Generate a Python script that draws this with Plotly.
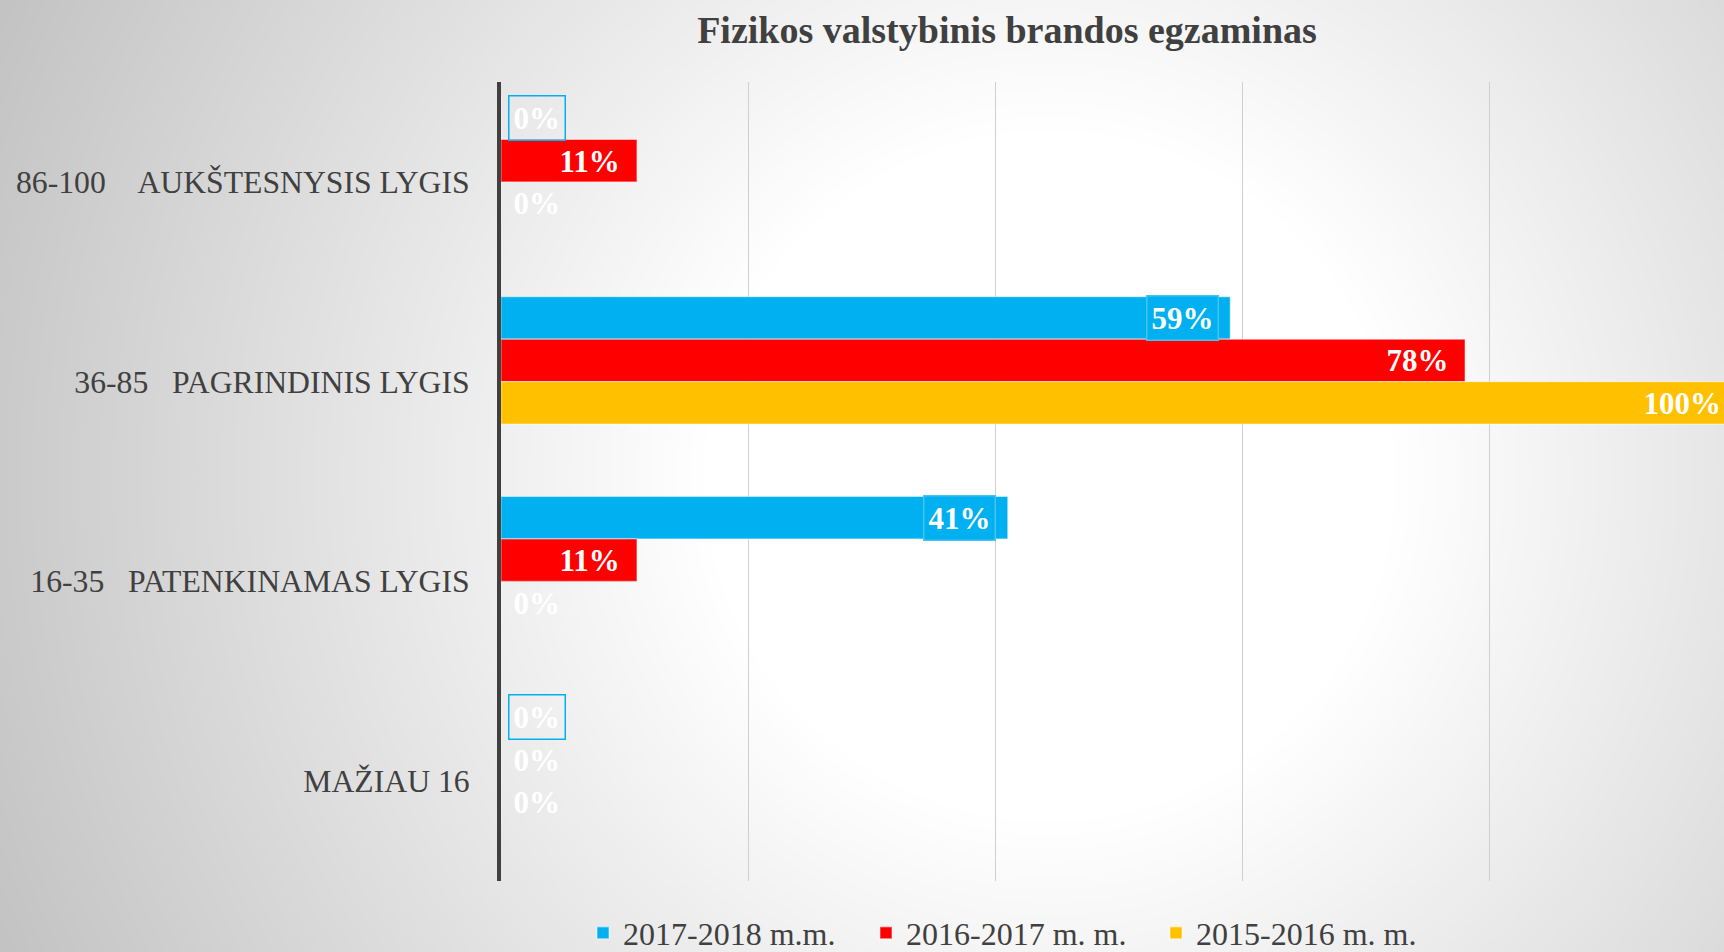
import base64
import struct
import zlib

import numpy as np
import plotly.graph_objects as go

# ---------------- data ----------------
categories = [
    "86-100\u00a0\u00a0\u00a0\u00a0AUKŠTESNYSIS LYGIS",
    "36-85\u00a0\u00a0\u00a0PAGRINDINIS LYGIS",
    "16-35\u00a0\u00a0\u00a0PATENKINAMAS LYGIS",
    "MAŽIAU 16",
]
series_names = ["2017-2018 m.m.", "2016-2017 m. m.", "2015-2016 m. m."]
values_2017_2018 = [0.00, 0.59, 0.41, 0.00]
values_2016_2017 = [0.11, 0.78, 0.11, 0.00]
values_2015_2016 = [0.00, 1.00, 0.00, 0.00]
series_values = [values_2017_2018, values_2016_2017, values_2015_2016]
colors = ["#00B0F0", "#FF0000", "#FFC000"]
title_text = "Fizikos valstybinis brandos egzaminas"

# ---------------- layout constants ----------------
W, H = 1724, 952
ML, MR, MT, MB = 501, 0, 82, 71
XMAX = 0.9895
BARGAP = 0.15
N_SLOTS = 4  # Excel chart holds an extra, empty series slot
FONT = "Liberation Serif, Times New Roman, serif"
TEXT_COLOR = "#404040"


# ---------------- background radial gradient ----------------
def gradient_png(w, h, scale):
    ys, xs = np.mgrid[0:h, 0:w].astype(float)
    xs = (xs + 0.5) * scale
    ys = (ys + 0.5) * scale
    d = np.hypot(xs - 1050.0, ys - 476.0)
    g = np.clip(255.0 - 0.0745 * np.maximum(d - 347.0, 0.0), 0, 255).astype(np.uint8)
    raw = b"".join(b"\x00" + g[r].tobytes() for r in range(h))

    def chunk(t, data):
        c = struct.pack(">I", len(data)) + t + data
        return c + struct.pack(">I", zlib.crc32(t + data) & 0xFFFFFFFF)

    ihdr = struct.pack(">IIBBBBB", w, h, 8, 0, 0, 0, 0)
    png = (b"\x89PNG\r\n\x1a\n" + chunk(b"IHDR", ihdr)
           + chunk(b"IDAT", zlib.compress(raw, 9)) + chunk(b"IEND", b""))
    return "data:image/png;base64," + base64.b64encode(png).decode()


bg_src = gradient_png(W // 2, H // 2, 2)

# ---------------- figure ----------------
fig = go.Figure()
legend_widths = [238, 245, 245]
for name, vals, col, lw in zip(series_names, series_values, colors, legend_widths):
    fig.add_trace(go.Bar(
        y=categories, x=vals, orientation="h", name=name,
        marker=dict(color=col, line=dict(color="rgba(255,255,255,0.45)", width=1.2)),
        legendwidth=lw, hoverinfo="skip",
    ))
# empty 4th series slot
fig.add_trace(go.Bar(y=categories, x=[None] * len(categories), orientation="h",
                     showlegend=False, hoverinfo="skip", marker=dict(color="rgba(0,0,0,0)")))

# data labels
slot_w = (1 - BARGAP) / N_SLOTS
BW, PAD = 1.5, 4
annotations = []
for i, vals in enumerate(series_values):
    off = -(1 - BARGAP) / 2 + slot_w * (i + 0.5)
    for j, v in enumerate(vals):
        txt = f"{round(v * 100)}%"
        if v == 0:
            x, xanchor, xshift = 0, "left", 7
        else:
            x = min(v, XMAX - 1e-6)
            xanchor = "right"
            xshift = -17 + PAD + BW if v <= XMAX else 3
        if i == 0:
            bg = "rgba(0,0,0,0)" if v == 0 else colors[0]
            bc = colors[0] if v == 0 else "#45C3F2"
        else:
            bg, bc = "rgba(0,0,0,0)", "rgba(0,0,0,0)"
        annotations.append(dict(
            x=x, y=j + off, xref="x", yref="y", text=txt, showarrow=False,
            xanchor=xanchor, yanchor="middle", xshift=xshift,
            font=dict(family=FONT, size=31, color="white", weight="bold"),
            bgcolor=bg, bordercolor=bc, borderwidth=BW, borderpad=PAD,
        ))

pw = W - ML - MR
ph = H - MT - MB
fig.update_layout(
    width=W, height=H,
    margin=dict(l=ML, r=MR, t=MT, b=MB, pad=0),
    paper_bgcolor="white", plot_bgcolor="rgba(0,0,0,0)",
    barmode="group", bargap=BARGAP, bargroupgap=0,
    font=dict(family=FONT, color=TEXT_COLOR, size=32),
    title=dict(text=title_text, x=1007 / W, xanchor="center", xref="container",
               y=1 - 30 / H, yanchor="middle", yref="container",
               font=dict(family=FONT, size=38, color=TEXT_COLOR, weight="bold")),
    xaxis=dict(range=[0, XMAX], showgrid=True, gridcolor="#cfcfcf", gridwidth=1,
               tick0=0, dtick=0.2, showticklabels=False, zeroline=False,
               showline=False, ticks="", fixedrange=True),
    yaxis=dict(type="category", autorange="reversed", showgrid=False, zeroline=False,
               showline=True, linecolor=TEXT_COLOR, linewidth=4, ticks="",
               ticklabelstandoff=21,
               tickfont=dict(family=FONT, size=31.7, color=TEXT_COLOR), fixedrange=True),
    legend=dict(orientation="h", xref="container", yref="container",
                x=583 / W, xanchor="left", y=(H - 933) / H, yanchor="middle",
                font=dict(family=FONT, size=32, color=TEXT_COLOR),
                bgcolor="rgba(0,0,0,0)", itemwidth=30, tracegroupgap=0),
    annotations=annotations,
    images=[dict(source=bg_src, xref="paper", yref="paper",
                 x=-ML / pw, y=1 + MT / ph, sizex=W / pw, sizey=H / ph,
                 xanchor="left", yanchor="top", sizing="stretch", layer="below")],
    showlegend=True,
)

fig.write_html("out.html",
               config={"displayModeBar": False, "staticPlot": True},
               post_script="document.body.style.margin='0px';"
                           "document.body.style.overflow='hidden';")
